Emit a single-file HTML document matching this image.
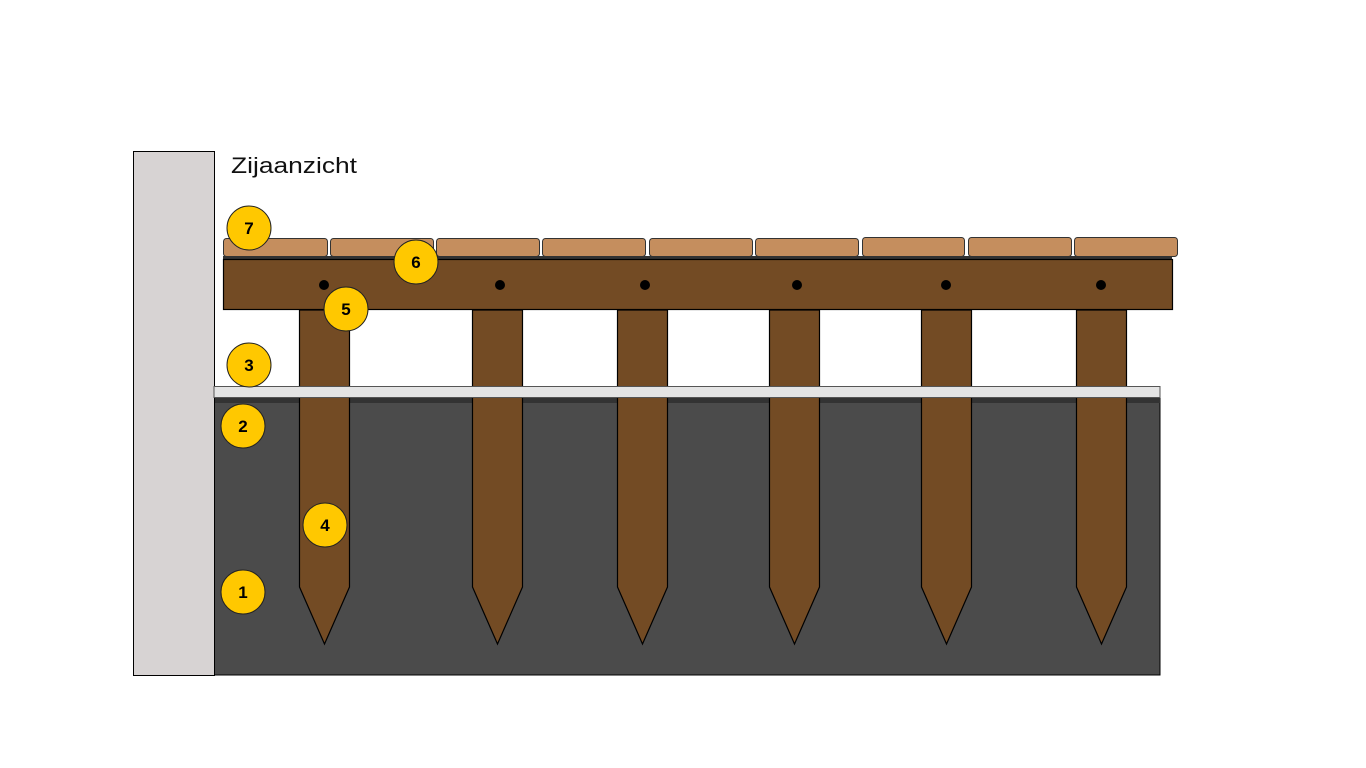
<!DOCTYPE html>
<html><head><meta charset="utf-8"><style>
html,body{margin:0;padding:0;background:#fff;}
svg{display:block}
text{font-family:"Liberation Sans",sans-serif;}
</style></head><body>
<svg width="1366" height="768" viewBox="0 0 1366 768" xmlns="http://www.w3.org/2000/svg">
<rect x="0" y="0" width="1366" height="768" fill="#fff"/>
<rect x="214" y="397" width="946" height="278" fill="#4b4b4b" stroke="#000" stroke-width="1"/>
<rect x="214" y="398" width="946" height="5" fill="#333"/>
<rect x="133.5" y="151.5" width="81" height="524" fill="#d7d3d3" stroke="#000" stroke-width="1"/>
<text x="231" y="173" font-size="22" fill="#111" textLength="126" lengthAdjust="spacingAndGlyphs">Zijaanzicht</text>
<g fill="#734b24" stroke="#000" stroke-width="1.2">
<path d="M299.5 310 V587 L324.5 644 L349.5 587 V310 Z"/>
<path d="M472.5 310 V587 L497.5 644 L522.5 587 V310 Z"/>
<path d="M617.5 310 V587 L642.5 644 L667.5 587 V310 Z"/>
<path d="M769.5 310 V587 L794.5 644 L819.5 587 V310 Z"/>
<path d="M921.5 310 V587 L946.5 644 L971.5 587 V310 Z"/>
<path d="M1076.5 310 V587 L1101.5 644 L1126.5 587 V310 Z"/>
</g>
<rect x="214" y="386.5" width="946" height="11" fill="#e4e4e4" stroke="#555" stroke-width="1"/>
<rect x="223" y="256" width="949" height="4" fill="#333"/>
<rect x="223.5" y="259.5" width="949" height="50" fill="#734b24" stroke="#000" stroke-width="1.2"/>
<g fill="#000">
<circle cx="324" cy="285" r="5"/><circle cx="500" cy="285" r="5"/><circle cx="645" cy="285" r="5"/>
<circle cx="797" cy="285" r="5"/><circle cx="946" cy="285" r="5"/><circle cx="1101" cy="285" r="5"/>
</g>
<g fill="#c58e5e" stroke="#333" stroke-width="1">
<rect x="223.5" y="238.5" width="104" height="18" rx="3"/>
<rect x="330.5" y="238.5" width="103" height="18" rx="3"/>
<rect x="436.5" y="238.5" width="103" height="18" rx="3"/>
<rect x="542.5" y="238.5" width="103" height="18" rx="3"/>
<rect x="649.5" y="238.5" width="103" height="18" rx="3"/>
<rect x="755.5" y="238.5" width="103" height="18" rx="3"/>
<rect x="862.5" y="237.5" width="102" height="19" rx="3"/>
<rect x="968.5" y="237.5" width="103" height="19" rx="3"/>
<rect x="1074.5" y="237.5" width="103" height="19" rx="3"/>
</g>
<g fill="#ffc800" stroke="#222" stroke-width="1">
<circle cx="249" cy="228" r="22"/>
<circle cx="416" cy="262" r="22"/>
<circle cx="346" cy="309" r="22"/>
<circle cx="249" cy="365" r="22"/>
<circle cx="243" cy="426" r="22"/>
<circle cx="325" cy="525" r="22"/>
<circle cx="243" cy="592" r="22"/>
</g>
<g font-size="17" fill="#000" text-anchor="middle" font-weight="bold">
<text x="249" y="234">7</text>
<text x="416" y="268">6</text>
<text x="346" y="315">5</text>
<text x="249" y="371">3</text>
<text x="243" y="432">2</text>
<text x="325" y="531">4</text>
<text x="243" y="598">1</text>
</g>
</svg>
</body></html>
